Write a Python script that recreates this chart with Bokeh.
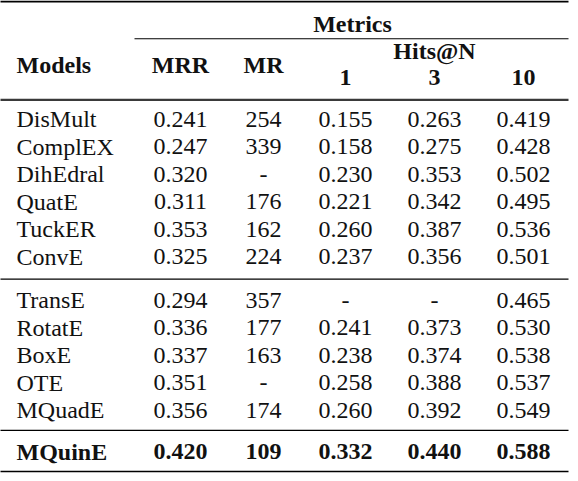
from bokeh.plotting import figure
from bokeh.models import Range1d, ColumnDataSource
from bokeh.core.properties import value
from bokeh.embed import file_html
from bokeh.resources import INLINE

# table data
models = ["DisMult", "ComplEX", "DihEdral", "QuatE", "TuckER", "ConvE",
          "TransE", "RotatE", "BoxE", "OTE", "MQuadE", "MQuinE"]
mrr = [0.241, 0.247, 0.320, 0.311, 0.353, 0.325,
       0.294, 0.336, 0.337, 0.351, 0.356, 0.420]
mr = [254, 339, None, 176, 162, 224,
      357, 177, 163, None, 174, 109]
hits1 = [0.155, 0.158, 0.230, 0.221, 0.260, 0.237,
         None, 0.241, 0.238, 0.258, 0.260, 0.332]
hits3 = [0.263, 0.275, 0.353, 0.342, 0.387, 0.356,
         None, 0.373, 0.374, 0.388, 0.392, 0.440]
hits10 = [0.419, 0.428, 0.502, 0.495, 0.536, 0.501,
          0.465, 0.530, 0.538, 0.537, 0.549, 0.588]
group_sizes = [6, 5, 1]

# layout (in reference pixel coordinates)
FONT = value("Liberation Serif")
SIZE = "24px"
name_x = 24
col_x = [188, 271, 353, 442, 531]
group_top = [125, 307, 459]
pitch = 27.6
left, right = 7, 576

row_y = []
for top, n in zip(group_top, group_sizes):
    row_y += [top + pitch * i for i in range(n)]


def fmt(v, digits=3):
    if v is None:
        return "-"
    if isinstance(v, int):
        return str(v)
    return f"{v:.{digits}f}"


p = figure(width=570, height=473, x_range=Range1d(8, 578), y_range=Range1d(481, 5.5),
           output_backend="svg", toolbar_location=None, min_border=0,
           x_axis_type=None, y_axis_type=None)
p.outline_line_color = None
p.background_fill_color = "white"

# rules
p.segment(x0=[left], x1=[right], y0=[6.5], y1=[6.5], line_width=2.2, line_color="black")
p.segment(x0=[142], x1=[right], y0=[44], y1=[44], line_width=1.1, line_color="black")
p.segment(x0=[left], x1=[right], y0=[105.5], y1=[105.5], line_width=2.2, line_color="#3a3a3a")
sep_y = [(row_y[5] + row_y[6]) / 2 + 0.5, (row_y[10] + row_y[11]) / 2 - 0.5, 479]
p.segment(x0=[left] * 3, x1=[right] * 3, y0=sep_y, y1=sep_y, line_width=1.3, line_color="black")

# header
p.text(x=[name_x], y=[70], text=["Models"], text_font=FONT, text_font_size=SIZE,
       text_font_style="bold", text_align="left", text_baseline="middle", text_color="#111")
head = ColumnDataSource(dict(
    x=[col_x[0], col_x[1], (col_x[0] + col_x[4]) / 2 + 0.5, col_x[3], col_x[2], col_x[3], col_x[4]],
    y=[70, 70, 29, 56, 83, 83, 83],
    t=["MRR", "MR", "Metrics", "Hits@N", "1", "3", "10"],
))
p.text(x="x", y="y", text="t", source=head, text_font=FONT, text_font_size=SIZE,
       text_font_style="bold", text_align="center", text_baseline="middle", text_color="#111")

# body
cols = [mrr, mr, hits1, hits3, hits10]
for style, rows in (("normal", range(11)), ("bold", [11])):
    xs, ys, ts = [], [], []
    for i in rows:
        xs.append(name_x)
        ys.append(row_y[i])
        ts.append(models[i])
    p.text(x=xs, y=ys, text=ts, text_font=FONT, text_font_size=SIZE, text_font_style=style,
           text_align="left", text_baseline="middle", text_color="#111")
    xs, ys, ts = [], [], []
    for i in rows:
        for cx, col in zip(col_x, cols):
            xs.append(cx)
            ys.append(row_y[i])
            ts.append(fmt(col[i]))
    p.text(x=xs, y=ys, text=ts, text_font=FONT, text_font_size=SIZE, text_font_style=style,
           text_align="center", text_baseline="middle", text_color="#111")

open("out.html", "w").write(file_html(p, INLINE))
